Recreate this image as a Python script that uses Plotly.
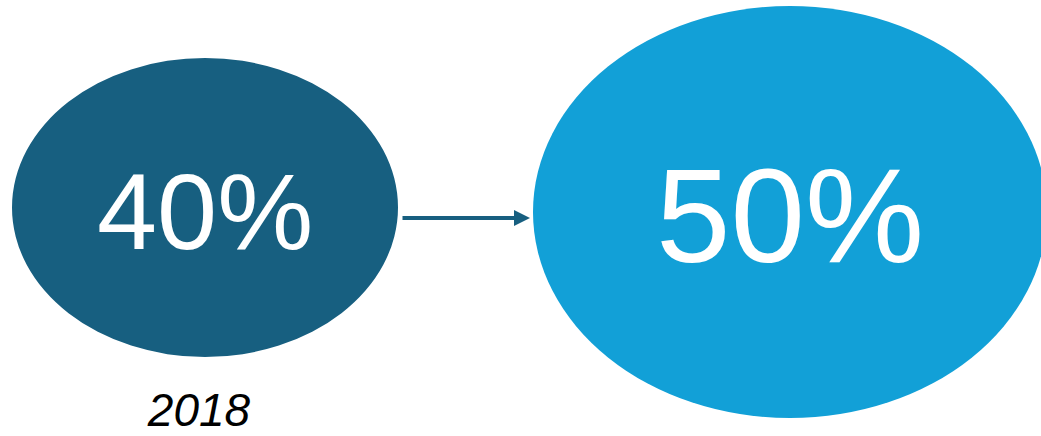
import plotly.graph_objects as go

# Shares shown in the two bubbles
periods = ["2018", "target"]
shares = [40, 50]
year_label = "2018"

share_labels = [f"{v}%" for v in shares]

# Layout of the bubbles on a pixel-like canvas
W, H = 1041, 436
bubbles = [
    dict(cx=205, cy=207.5, rx=193, ry=149.5, color="#175F80", size=108, ty=211),
    dict(cx=790, cy=212, rx=257, ry=206, color="#12A0D7", size=134, ty=215),
]
FONT = "Liberation Sans, Arial, sans-serif"

fig = go.Figure()

for b in bubbles:
    fig.add_shape(
        type="circle", xref="x", yref="y",
        x0=b["cx"] - b["rx"], x1=b["cx"] + b["rx"],
        y0=b["cy"] - b["ry"], y1=b["cy"] + b["ry"],
        fillcolor=b["color"], line=dict(width=0), layer="below",
    )

for b, lab in zip(bubbles, share_labels):
    fig.add_annotation(
        x=b["cx"], y=b["ty"], xref="x", yref="y", text=lab, showarrow=False,
        font=dict(family=FONT, size=b["size"], color="white"),
        xanchor="center", yanchor="middle",
    )

# Arrow from the first bubble to the second
fig.add_annotation(
    x=530, y=218, ax=401, ay=218, xref="x", yref="y", axref="x", ayref="y",
    text="", showarrow=True, arrowhead=2, arrowsize=0.8, arrowwidth=4,
    arrowcolor="#175F80", standoff=0,
)

# Year caption under the first bubble
fig.add_trace(go.Scatter(
    x=[199], y=[414], mode="text", text=[f"<i>{year_label}</i>"],
    textposition="middle center", cliponaxis=False, hoverinfo="skip",
    textfont=dict(family=FONT, size=46, color="black"),
))

fig.update_layout(
    width=W, height=H, margin=dict(l=0, r=0, t=0, b=0),
    paper_bgcolor="white", plot_bgcolor="white", showlegend=False,
    xaxis=dict(range=[0, W], visible=False, fixedrange=True),
    yaxis=dict(range=[H, 0], visible=False, fixedrange=True),
)

fig.write_html("out.html")
